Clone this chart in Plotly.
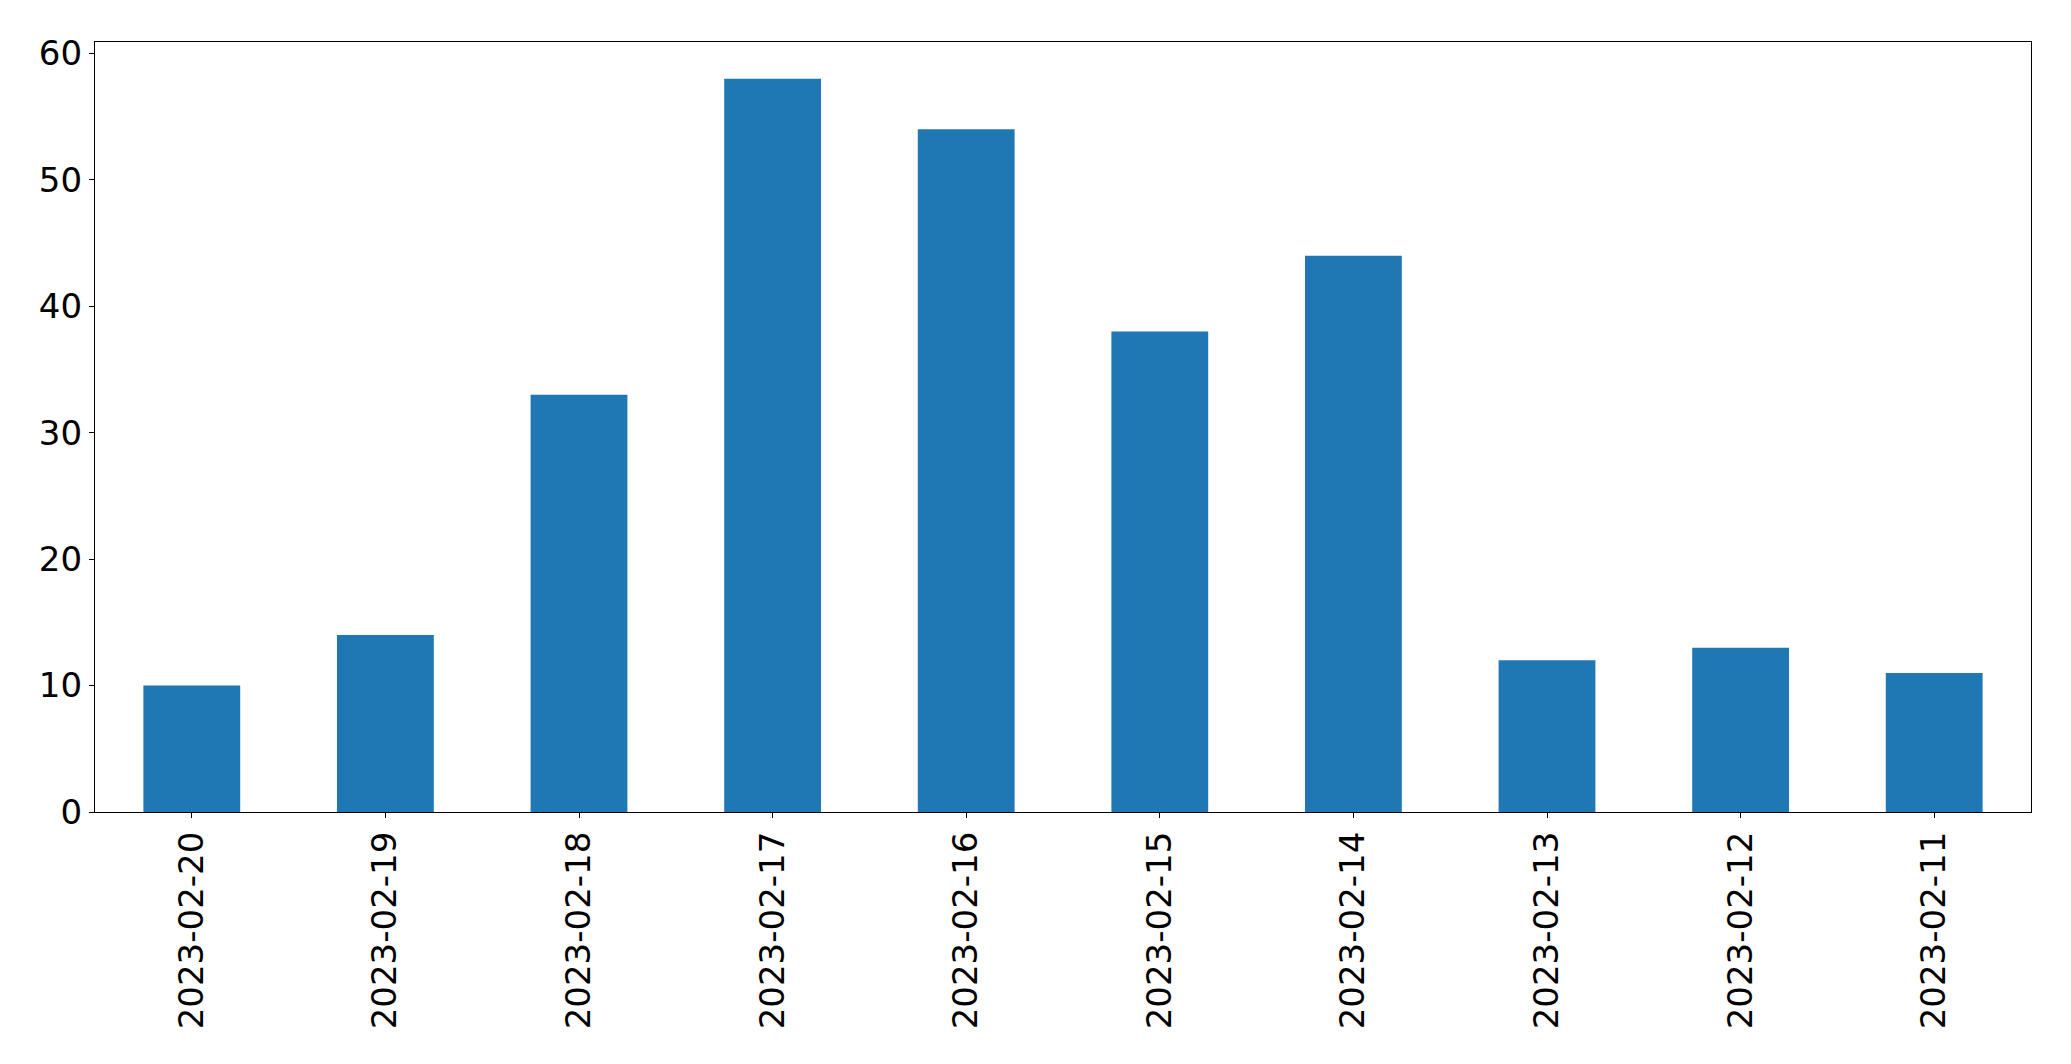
import plotly.graph_objects as go

dates = ["2023-02-20", "2023-02-19", "2023-02-18", "2023-02-17", "2023-02-16",
         "2023-02-15", "2023-02-14", "2023-02-13", "2023-02-12", "2023-02-11"]
counts = [10, 14, 33, 58, 54, 38, 44, 12, 13, 11]

fig = go.Figure(go.Bar(x=dates, y=counts, marker_color="#1f77b4", marker_line_width=0))

fig.update_layout(
    width=2071, height=1064,
    margin=dict(l=95, r=40, t=42, b=252, pad=0),
    plot_bgcolor="white", paper_bgcolor="white",
    bargap=0.5, showlegend=False,
    font=dict(family="DejaVu Sans", size=34, color="black"),
)
fig.update_xaxes(
    type="category", range=[-0.5, 9.5], tickangle=-90,
    showline=True, linecolor="black", linewidth=1.2, mirror=True,
    ticks="outside", ticklen=5, tickwidth=1.1, tickcolor="black",
    showgrid=False, zeroline=False,
)
fig.update_yaxes(
    range=[0, 60.9], tickvals=[0, 10, 20, 30, 40, 50, 60],
    showline=True, linecolor="black", linewidth=1.2, mirror=True,
    ticks="outside", ticklen=5, tickwidth=1.1, tickcolor="black",
    showgrid=False, zeroline=False,
)

fig.write_html("out.html")
